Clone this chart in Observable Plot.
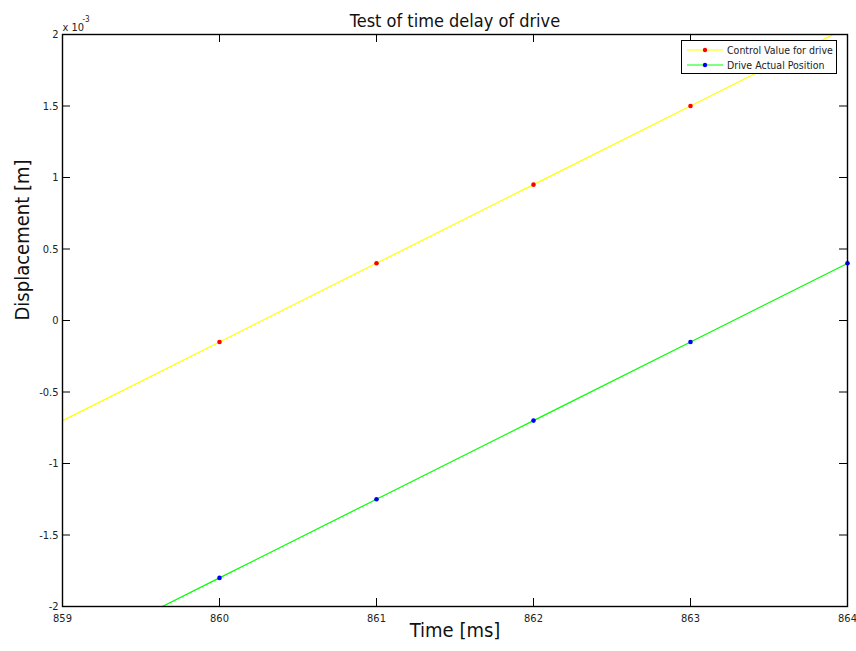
<!DOCTYPE html>
<html>
<head>
<meta charset="utf-8">
<script src="https://cdn.jsdelivr.net/npm/d3@7"></script>
<script src="https://cdn.jsdelivr.net/npm/@observablehq/plot@0.6"></script>
<style>
  html, body { margin: 0; padding: 0; background: #fff; }
  #wrap { position: relative; width: 856px; height: 651px; font-family: "DejaVu Sans Condensed", "DejaVu Sans", sans-serif; font-stretch: condensed; }
  #wrap svg text { font-stretch: condensed; }
  #legend { position: absolute; left: 681px; top: 40px; width: 156px; height: 34px; border: 1px solid #000; background: #fff; box-sizing: border-box; font-size: 10.5px; color: #222; white-space: nowrap; overflow: hidden; }
  .row { position: absolute; left: 0; height: 14px; display: flex; align-items: center; white-space: nowrap; }
  .row svg { margin-left: 5px; margin-right: 4px; flex: none; }
</style>
</head>
<body>
<div id="wrap"></div>
<script>
// Data (displacement in metres; axis shows x 10^-3)
const time = [859, 860, 861, 862, 863, 864];
const controlValue = [-0.70e-3, -0.15e-3, 0.40e-3, 0.95e-3, 1.50e-3, 2.05e-3];
const actualPosition = [-2.35e-3, -1.80e-3, -1.25e-3, -0.70e-3, -0.15e-3, 0.40e-3];
const controlSampleTimes = [860, 861, 862, 863];
const actualSampleTimes = [860, 861, 862, 863, 864];
const xTicks = [859, 860, 861, 862, 863, 864];
const yTicks = [-2e-3, -1.5e-3, -1e-3, -0.5e-3, 0, 0.5e-3, 1e-3, 1.5e-3, 2e-3];
const seriesNames = ["Control Value for drive", "Drive Actual Position"];
const lineColors = ["#ffff00", "#00ff00"];
const dotColors = ["#ff0000", "#0000ff"];

const control = time.map((t, i) => ({t, v: controlValue[i]}));
const actual = time.map((t, i) => ({t, v: actualPosition[i]}));
const controlDots = control.filter(d => controlSampleTimes.includes(d.t));
const actualDots = actual.filter(d => actualSampleTimes.includes(d.t));

const font = "DejaVu Sans Condensed, DejaVu Sans, sans-serif";
const W = 856, H = 651, mL = 62, mR = 9, mT = 34, mB = 45;
const plotW = W - mL - mR, plotH = H - mT - mB;
const tickLen = 8;

const fmt = d => String(+(d * 1e3).toFixed(2));

const chart = Plot.plot({
  width: W, height: H,
  marginLeft: mL, marginRight: mR, marginTop: mT, marginBottom: mB,
  x: {domain: [859, 864]},
  y: {domain: [-2e-3, 2e-3]},
  style: {fontFamily: font, background: "#fff", color: "#222", overflow: "visible"},
  marks: [
    Plot.line(control, {x: "t", y: "v", stroke: lineColors[0], strokeWidth: 1.2, clip: true}),
    Plot.line(actual, {x: "t", y: "v", stroke: lineColors[1], strokeWidth: 1.2, clip: true}),
    Plot.dot(controlDots, {x: "t", y: "v", r: 2.3, fill: dotColors[0], stroke: "none"}),
    Plot.dot(actualDots, {x: "t", y: "v", r: 2.3, fill: dotColors[1], stroke: "none"}),
    Plot.tickX(xTicks, {x: d => d, insetTop: plotH - tickLen, stroke: "#000"}),
    Plot.tickX(xTicks, {x: d => d, insetBottom: plotH - tickLen, stroke: "#000"}),
    Plot.tickY(yTicks, {y: d => d, insetRight: plotW - tickLen, stroke: "#000"}),
    Plot.tickY(yTicks, {y: d => d, insetLeft: plotW - tickLen, stroke: "#000"}),
    Plot.frame({stroke: "#000", strokeWidth: 1.4}),
    Plot.axisX({ticks: xTicks, tickSize: 0, tickPadding: 8, fontSize: 11, label: null, tickFormat: d => String(d)}),
    Plot.axisY({ticks: yTicks, tickSize: 0, tickPadding: 4, fontSize: 11, label: null, tickFormat: fmt}),
    Plot.text(["Test of time delay of drive"], {text: d => d, frameAnchor: "top", dy: -20, fontSize: 18, fill: "#111"}),
    Plot.text(["Time [ms]"], {text: d => d, frameAnchor: "bottom", dy: 30, fontSize: 20, fill: "#111"}),
    Plot.text(["Displacement [m]"], {text: d => d, frameAnchor: "left", dx: -40, rotate: -90, fontSize: 20, fill: "#111"}),
    Plot.text(["x 10"], {text: d => d, frameAnchor: "top-left", dy: -11, textAnchor: "start", fontSize: 11, fill: "#222"}),
    Plot.text(["-3"], {text: d => d, frameAnchor: "top-left", dx: 20, dy: -18, textAnchor: "start", fontSize: 8, fill: "#222"})
  ]
});

const wrap = document.getElementById("wrap");
wrap.appendChild(chart);

const legend = document.createElement("div");
legend.id = "legend";
seriesNames.forEach((name, i) => {
  const row = document.createElement("div");
  row.className = "row";
  row.style.top = (2 + i * 15) + "px";
  row.innerHTML = `<svg width="36" height="10"><line x1="0" y1="5" x2="36" y2="5" stroke="${lineColors[i]}" stroke-width="1.2"/><circle cx="18" cy="5" r="2.2" fill="${dotColors[i]}"/></svg><span>${name}</span>`;
  legend.appendChild(row);
});
wrap.appendChild(legend);
</script>
</body>
</html>
